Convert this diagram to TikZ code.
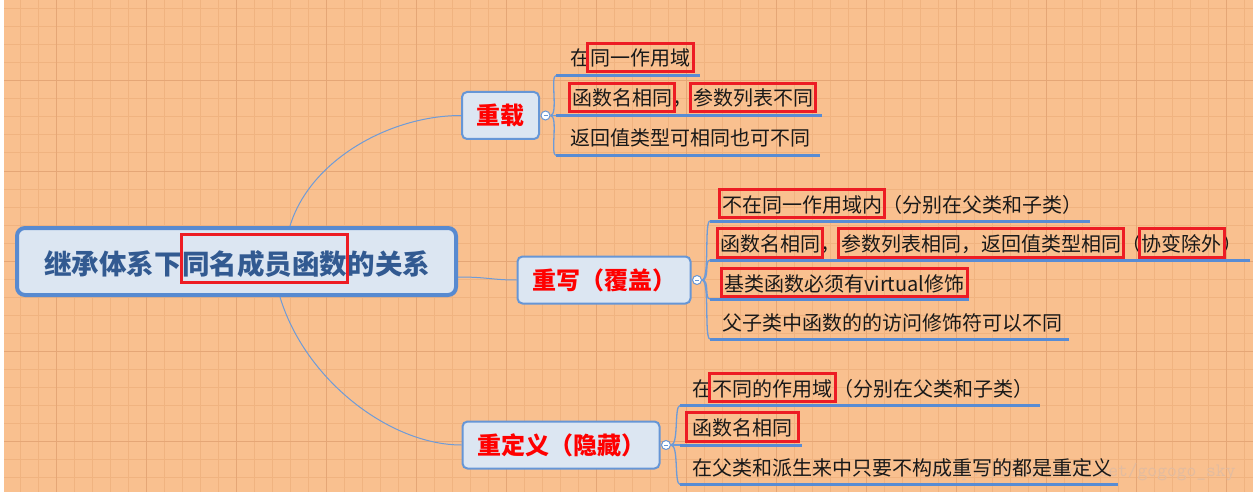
\documentclass[tikz,border=0pt]{standalone}
\usepackage{fontspec}
\newfontfamily\cjk{Noto Sans CJK SC}
\usetikzlibrary{positioning,fit}

\definecolor{paper}{RGB}{249,192,143}
\definecolor{gridlo}{RGB}{240,179,128}
\definecolor{gridhi}{RGB}{229,166,118}
\definecolor{boxfill}{RGB}{220,230,242}
\definecolor{rootline}{RGB}{88,138,208}
\definecolor{brline}{RGB}{102,150,214}
\definecolor{roottext}{RGB}{50,90,145}
\definecolor{hlred}{RGB}{237,28,36}
\definecolor{ulblue}{RGB}{88,140,212}
\definecolor{linkblue}{RGB}{110,155,215}
\definecolor{wmgray}{RGB}{226,188,160}

\tikzset{
  rootbox/.style={draw=rootline, line width=4pt, fill=boxfill, rounded corners=8pt,
    minimum width=439pt, minimum height=67pt},
  rootseg/.style={inner sep=0pt, text=roottext, font=\cjk\bfseries\fontsize{27.5}{33}\selectfont,
    text height=36.5pt, text depth=5.5pt, anchor=base west},
  branch/.style={draw=brline, line width=2pt, fill=boxfill, rounded corners=5pt,
    minimum height=47pt, inner xsep=14.5pt, text=red, font=\cjk\bfseries\fontsize{24}{29}\selectfont},
  fold/.style={circle, draw=brline, line width=1pt, fill=white, minimum size=9pt, inner sep=0pt,
    path picture={\draw[brline, line width=1pt] ([xshift=-2pt]path picture bounding box.center)
      -- ([xshift=2pt]path picture bounding box.center);}},
  seg/.style={inner sep=0pt, font=\cjk\fontsize{20}{24}\selectfont, text=black!90,
    text height=19.5pt, text depth=2.5pt, anchor=base west},
  hlbox/.style={draw=hlred, line width=3pt, inner xsep=2.5pt, inner ysep=3pt},
  uline/.style={draw=ulblue, line width=3pt},
  link/.style={draw=linkblue, line width=1pt},
  leaflink/.style={draw=linkblue, line width=1.3pt},
  wm/.style={inner sep=0pt, text=wmgray, font=\ttfamily\fontsize{19}{22}\selectfont, anchor=base west}
}

\begin{document}
\begin{tikzpicture}[x=1pt,y=-1pt]
	\useasboundingbox (0,0) rectangle (1253,492);
	\fill[paper] (0,0) rectangle (1253,492);
	\foreach \x in {2,20,...,1252} {
    \draw[gridlo, line width=1pt] (\x,0) to (\x,492);
  }
	\foreach \y in {9,27,...,491} {
    \draw[gridlo, line width=1pt] (0,\y) to (1253,\y);
  }
	\foreach \x in {56,146,...,1252} {
    \draw[gridhi, line width=1pt] (\x,0) to (\x,492);
  }
	\foreach \y in {81,171,...,491} {
    \draw[gridhi, line width=1pt] (0,\y) to (1253,\y);
  }
	\fill[white] (0,0) rectangle (4,492);

	\node[wm] (wmark) at (932,476) {http://blog.csdn.net/gogogo\_sky};

	% root
	\node[rootbox] (root) at (236.5,261.5) {};
	\node[rootseg] (r1) at (44,274) {继承体系下};
	\node[rootseg] (r2) at (r1.base east) {同名成员函数};
	\node[rootseg] (r3) at (r2.base east) {的关系};
	\node[hlbox, inner xsep=0pt, fit=(r2)] (rm) {};

	% branches
	\node[branch] (br1) at (500.5,115.5) {重载};
	\node[branch] (br2) at (604,280) {重写（覆盖）};
	\node[branch] (br3) at (561,445) {重定义（隐藏）};
	\node[fold, right=0.5pt of br1] (f1) {};
	\node[fold, right=0.5pt of br2] (f2) {};
	\node[fold, right=0.5pt of br3] (f3) {};

	\draw[link] ([xshift=53.5pt]root.north) .. controls (310,160) and (390,115.5) .. (br1.west);
	\draw[link] ([yshift=-15.5pt]root.east) .. controls +(30,0) and +(-25,0) .. (br2.west);
	\draw[link] ([xshift=43.5pt]root.south) .. controls (305,380) and (390,445) .. (br3.west);

	% leaves of br1
	\coordinate (u11) at (556,75.5);
	\coordinate (u12) at (556,115.5);
	\coordinate (u13) at (556,155.5);
	\node[seg] (a11) at (570,66) {在};
	\node[seg] (a12) at (a11.base east) {同一作用域};
	\node[seg] (a21) at (572,106) {函数名相同};
	\node[seg] (a22) at (a21.base east) {，};
	\node[seg] (a23) at (a22.base east) {参数列表不同};
	\node[seg] (a31) at (570,146) {返回值类型可相同也可不同};
	\draw[uline] (u11) -- (u11 -| a12.east) -- ++(9,0);
	\draw[uline] (u12) -- (u12 -| a23.east) -- ++(9,0);
	\draw[uline] (u13) -- (u13 -| a31.east) -- ++(10,0);
	\node[hlbox, fit=(a12)] (m12) {};
	\node[hlbox, fit=(a21)] (m21) {};
	\node[hlbox, fit=(a23)] (m23) {};
	\foreach \u in {u11,u12,u13} {
    \draw[leaflink] (f1.east) .. controls +(8,0) and +(-6,0) .. (\u);
  }

	% leaves of br2
	\coordinate (u21) at (710,221);
	\coordinate (u22) at (710,260);
	\coordinate (u23) at (710,299);
	\coordinate (u24) at (710,339);
	\node[seg] (b11) at (722,212) {不在同一作用域内};
	\node[seg] (b12) at (b11.base east) {（分别在父类和子类）};
	\node[seg] (b21) at (720,251.5) {函数名相同};
	\node[seg] (b22) at (b21.base east) {，};
	\node[seg] (b23) at (b22.base east) {参数列表相同，返回值类型相同};
	\node[seg] (b24) at (b23.base east) {（};
	\node[seg] (b25) at (b24.base east) {协变除外};
	\node[seg] (b26) at (b25.base east) {）};
	\node[seg] (b31) at (724,291) {基类函数必须有virtual修饰};
	\node[seg] (b41) at (722,330.5) {父子类中函数的的访问修饰符可以不同};
	\draw[uline] (u21) -- (u21 -| b12.east) -- ++(7,0);
	\draw[uline] (u22) -- (u22 -| b26.east) -- ++(8,0);
	\draw[uline] (u23) -- (u23 -| b31.east) -- ++(4,0);
	\draw[uline] (u24) -- (u24 -| b41.east) -- ++(7,0);
	\node[hlbox, fit=(b11)] (n11) {};
	\node[hlbox, fit=(b21)] (n21) {};
	\node[hlbox, fit=(b23)] (n23) {};
	\node[hlbox, fit=(b25)] (n25) {};
	\node[hlbox, fit=(b31)] (n31) {};
	\foreach \u in {u21,u22,u23,u24} {
    \draw[leaflink] (f2.east) .. controls +(8,0) and +(-6,0) .. (\u);
  }

	% leaves of br3
	\coordinate (u31) at (680,405.5);
	\coordinate (u32) at (680,445);
	\coordinate (u33) at (680,484.5);
	\node[seg] (c11) at (692,396) {在};
	\node[seg] (c12) at (c11.base east) {不同的作用域};
	\node[seg] (c13) at (c12.base east) {（分别在父类和子类）};
	\node[seg] (c21) at (692,435.5) {函数名相同};
	\node[seg] (c31) at (692,475) {在父类和派生来中只要不构成重写的都是重定义};
	\draw[uline] (u31) -- (u31 -| c13.east) -- ++(7,0);
	\draw[uline] (u32) -- (u32 -| c21.east) -- ++(10,0);
	\draw[uline] (u33) -- (u33 -| c31.east) -- ++(6,0);
	\node[hlbox, fit=(c12)] (k12) {};
	\node[hlbox, inner xsep=6pt, fit=(c21)] (k21) {};
	\foreach \u in {u31,u32,u33} {
    \draw[leaflink] (f3.east) .. controls +(8,0) and +(-6,0) .. (\u);
  }
\end{tikzpicture}
\end{document}
